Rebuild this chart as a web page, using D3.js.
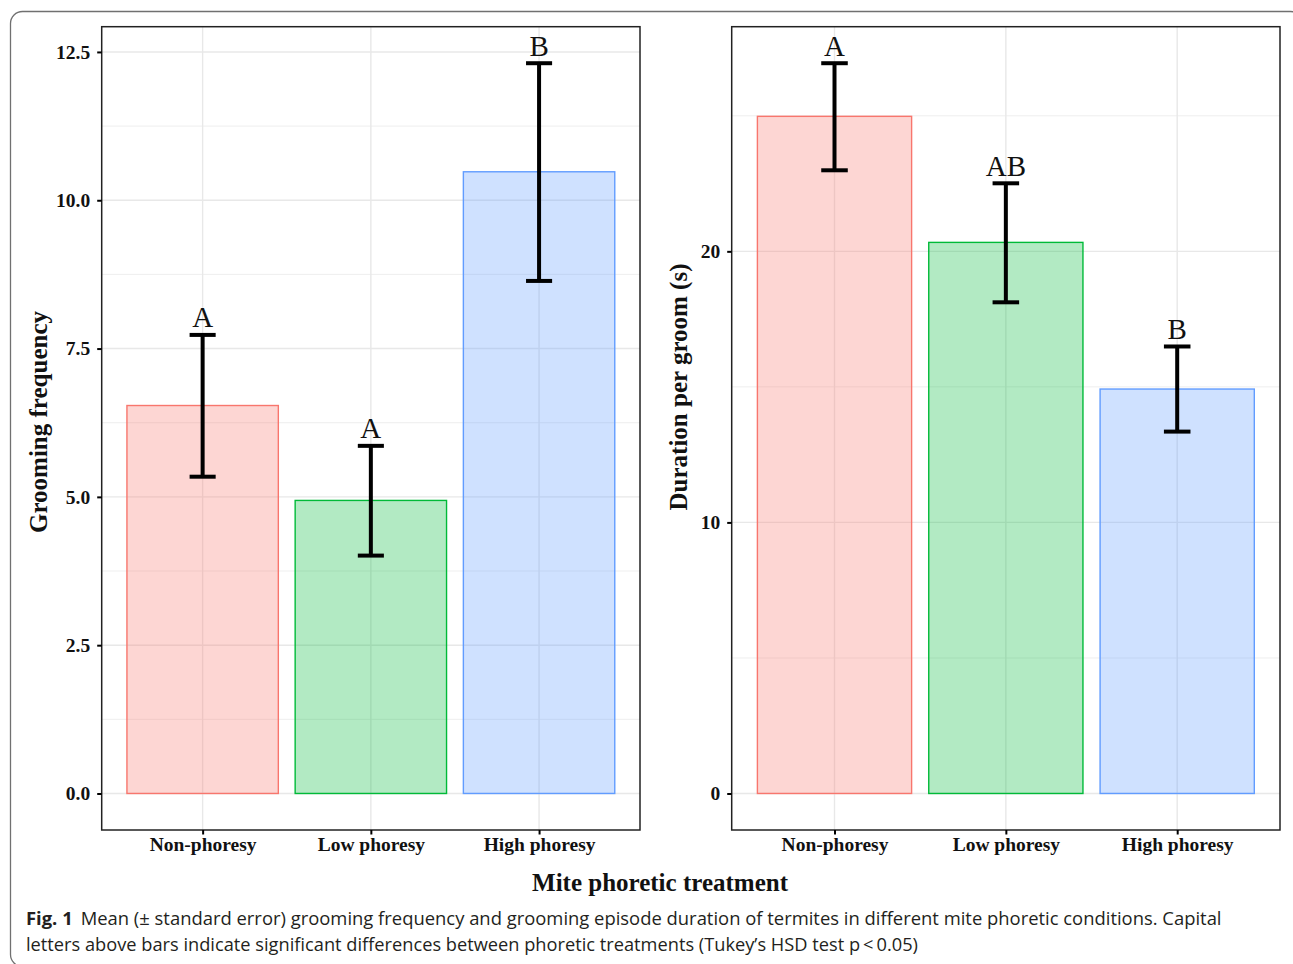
<!DOCTYPE html>
<html>
<head>
<meta charset="utf-8">
<script src="https://cdn.jsdelivr.net/npm/d3@7"></script>
<style>
  html, body { margin: 0; padding: 0; background: #fff; }
  svg { display: block; }
</style>
</head>
<body>
<svg id="chart" width="1293" height="964"></svg>
<script>
// ---------- data ----------
const categories = ["Non-phoresy", "Low phoresy", "High phoresy"];
const colors = ["#F8766D", "#00BA38", "#619CFF"];

const freqMean  = [6.54, 4.94, 10.48];
const freqLower = [5.34, 4.01, 8.64];
const freqUpper = [7.73, 5.86, 12.31];
const freqLetters = ["A", "A", "B"];
const freqTicks = [0, 2.5, 5, 7.5, 10, 12.5];
const freqMinor = [1.25, 3.75, 6.25, 8.75, 11.25];

const durMean  = [24.98, 20.33, 14.92];
const durLower = [22.99, 18.12, 13.35];
const durUpper = [26.94, 22.51, 16.49];
const durLetters = ["A", "AB", "B"];
const durTicks = [0, 10, 20];
const durMinor = [5, 15, 25];

const yTitles = ["Grooming frequency", "Duration per groom (s)"];
const xTitle = "Mite phoretic treatment";
const captionBold = "Fig. 1";
const captionLine1 = "Mean (\u00B1 standard error) grooming frequency and grooming episode duration of termites in different mite phoretic conditions. Capital";
const captionLine2 = "letters above bars indicate significant differences between phoretic treatments (Tukey\u2019s HSD test p\u2009<\u20090.05)";

// ---------- drawing ----------
const svg = d3.select("#chart");
const serif = "'Liberation Serif', 'Times New Roman', serif";

// outer rounded frame (runs off the right and bottom edges as in the reference)
svg.append("rect")
  .attr("x", 10.5).attr("y", 11.5).attr("width", 1292).attr("height", 955)
  .attr("rx", 12).attr("ry", 12)
  .attr("fill", "none").attr("stroke", "#707070").attr("stroke-width", 1.3);

function panel(cfg) {
  const g = svg.append("g");
  const {x0, x1, y0, y1} = cfg;
  const maxV = d3.max(cfg.upper);
  const pad = maxV * 0.05;
  const y = d3.scaleLinear().domain([-pad, maxV + pad]).range([y1, y0]);
  // ggplot-like discrete axis: centres at (i+0.6)*step, bar width 0.9*step
  const step = (x1 - x0) / 3.2;
  const cx = d3.scalePoint().domain(categories).range([x0 + 0.6 * step, x1 - 0.6 * step]);
  const bw = 0.9 * step;

  // grid
  g.selectAll(".minor").data(cfg.minor).join("line")
    .attr("x1", x0).attr("x2", x1)
    .attr("y1", d => y(d)).attr("y2", d => y(d))
    .attr("stroke", "#ececec").attr("stroke-width", 0.9);
  g.selectAll(".major").data(cfg.ticks).join("line")
    .attr("x1", x0).attr("x2", x1)
    .attr("y1", d => y(d)).attr("y2", d => y(d))
    .attr("stroke", "#e8e8e8").attr("stroke-width", 1.4);
  g.selectAll(".vgrid").data(categories).join("line")
    .attr("x1", d => cx(d)).attr("x2", d => cx(d))
    .attr("y1", y0).attr("y2", y1)
    .attr("stroke", "#e8e8e8").attr("stroke-width", 1.4);

  // bars
  g.selectAll(".bar").data(categories).join("rect")
    .attr("x", d => cx(d) - bw / 2)
    .attr("width", bw)
    .attr("y", (d, i) => y(cfg.mean[i]))
    .attr("height", (d, i) => y(0) - y(cfg.mean[i]))
    .attr("fill", (d, i) => colors[i]).attr("fill-opacity", 0.3)
    .attr("stroke", (d, i) => colors[i]).attr("stroke-width", 1.4);

  // error bars + letters
  const cap = 0.155 * step;
  categories.forEach((c, i) => {
    const eg = g.append("g").attr("stroke", "#000").attr("stroke-width", 4);
    eg.append("line").attr("x1", cx(c)).attr("x2", cx(c))
      .attr("y1", y(cfg.lower[i])).attr("y2", y(cfg.upper[i]));
    eg.append("line").attr("x1", cx(c) - cap / 2).attr("x2", cx(c) + cap / 2)
      .attr("y1", y(cfg.upper[i])).attr("y2", y(cfg.upper[i]));
    eg.append("line").attr("x1", cx(c) - cap / 2).attr("x2", cx(c) + cap / 2)
      .attr("y1", y(cfg.lower[i])).attr("y2", y(cfg.lower[i]));
    g.append("text")
      .attr("x", cx(c)).attr("y", y(cfg.upper[i]) - 7.5)
      .attr("text-anchor", "middle")
      .attr("font-family", serif).attr("font-size", 29)
      .attr("fill", "#111")
      .text(cfg.letters[i]);
  });

  // frame
  g.append("rect").attr("x", x0).attr("y", y0)
    .attr("width", x1 - x0).attr("height", y1 - y0)
    .attr("fill", "none").attr("stroke", "#222").attr("stroke-width", 1.5);

  // y axis
  const yAxis = d3.axisLeft(y).tickValues(cfg.ticks).tickFormat(cfg.fmt).tickSize(4.5).tickPadding(7);
  const ya = g.append("g").attr("transform", `translate(${x0},0)`).call(yAxis);
  ya.select(".domain").remove();
  ya.selectAll(".tick line").attr("stroke", "#000").attr("stroke-width", 2);
  ya.selectAll(".tick text").attr("font-family", serif).attr("font-weight", "bold")
    .attr("font-size", 19.5).attr("fill", "#111");

  // x axis
  const xAxis = d3.axisBottom(cx).tickSize(4.5).tickPadding(3);
  const xa = g.append("g").attr("transform", `translate(0,${y1})`).call(xAxis);
  xa.select(".domain").remove();
  xa.selectAll(".tick line").attr("stroke", "#000").attr("stroke-width", 2);
  xa.selectAll(".tick text").attr("font-family", serif).attr("font-weight", "bold")
    .attr("font-size", 19.5).attr("fill", "#111");

  // y title
  g.append("text")
    .attr("transform", `translate(${cfg.titleX},${cfg.titleY}) rotate(-90)`)
    .attr("text-anchor", "middle").attr("dy", "0.35em")
    .attr("font-family", serif).attr("font-weight", "bold").attr("font-size", 25)
    .attr("fill", "#111")
    .text(cfg.yTitle);
}

panel({
  x0: 101.7, x1: 640, y0: 26.7, y1: 830,
  mean: freqMean, lower: freqLower, upper: freqUpper, letters: freqLetters,
  ticks: freqTicks, minor: freqMinor, fmt: d3.format(".1f"),
  yTitle: yTitles[0], titleX: 38, titleY: 422
});
panel({
  x0: 731.7, x1: 1280, y0: 26.7, y1: 830,
  mean: durMean, lower: durLower, upper: durUpper, letters: durLetters,
  ticks: durTicks, minor: durMinor, fmt: d3.format("d"),
  yTitle: yTitles[1], titleX: 678, titleY: 387
});

// x title
svg.append("text")
  .attr("x", 660).attr("y", 891)
  .attr("text-anchor", "middle")
  .attr("font-family", serif).attr("font-weight", "bold").attr("font-size", 25)
  .attr("fill", "#111")
  .text(xTitle);

// caption
const capFont = "'Open Sans', 'Noto Sans', sans-serif";
const c1 = svg.append("text").attr("x", 26).attr("y", 925)
  .attr("font-family", capFont).attr("font-size", 18).attr("fill", "#231f20");
c1.append("tspan").attr("font-weight", "bold").text(captionBold);
c1.append("tspan").attr("dx", 8).text(captionLine1);
const c2 = svg.append("text").attr("x", 26).attr("y", 951)
  .attr("font-family", capFont).attr("font-size", 18).attr("fill", "#231f20")
  .text(captionLine2);
// fit caption to the reference line widths
const w1 = c1.node().getComputedTextLength() + 8;
const fs = 18 * 1197 / w1;
c1.attr("font-size", fs);
c2.attr("font-size", fs);
const w2 = c2.node().getComputedTextLength();
if (w2 > 892) c2.attr("textLength", 892).attr("lengthAdjust", "spacingAndGlyphs");
</script>
</body>
</html>
